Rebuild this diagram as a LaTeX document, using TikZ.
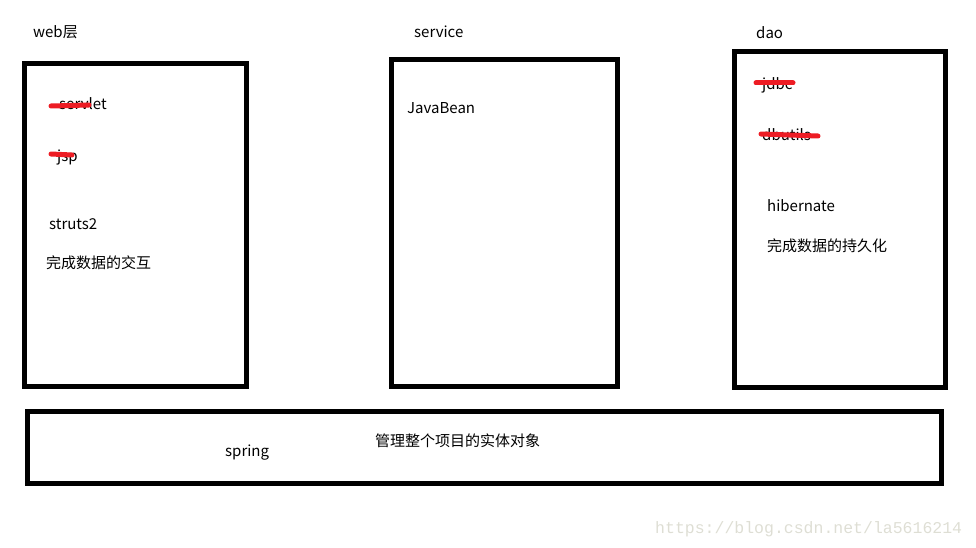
\documentclass[tikz,border=0pt]{standalone}
\usepackage{fontspec}
\setmainfont{Noto Sans CJK SC}
\newfontfamily\markfont{Liberation Mono}
\usepackage{tikz}
\definecolor{paintred}{RGB}{237,28,36}
\definecolor{markgray}{RGB}{222,222,212}

\begin{document}
\begin{tikzpicture}[x=1pt, y=-1pt,
    box/.style={line width=5pt},
    txt/.style={anchor=base west, inner sep=0pt, font=\fontsize{15}{18}\selectfont},
    strike/.style={paintred, line width=5pt, line cap=round}]
    \useasboundingbox (0,0) rectangle (976,548);
    % layer boxes
    \draw[box] (24.5,63.5) rectangle (246.5,386.5);
    \draw[box] (391.5,60) rectangle (617.5,386.5);
    \draw[box] (734.5,51.5) rectangle (945.5,387.5);
    \draw[box] (27.5,411.5) rectangle (941.5,483.5);
    % titles
    \node[txt] (web) at (33,37.5) {web层};
    \node[txt] (service) at (414,37.5) {service};
    \node[txt] (dao) at (756,38.5) {dao};
    % web layer
    \node[txt] (servlet) at (59,110) {servlet};
    \node[txt] (jsp) at (57,162) {jsp};
    \node[txt] (struts) at (49,229.5) {struts2};
    \node[txt] (webnote) at (46,268.5) {完成数据的交互};
    % service layer
    \node[txt] (bean) at (407,113.5) {JavaBean};
    % dao layer
    \node[txt] (jdbc) at (762,89.5) {jdbc};
    \node[txt] (dbutils) at (762,140.5) {dbutils};
    \node[txt] (hibernate) at (767,211.5) {hibernate};
    \node[txt] (daonote) at (767,251.5) {完成数据的持久化};
    % spring
    \node[txt] (spring) at (225,456.5) {spring};
    \node[txt] (springnote) at (375,446.5) {管理整个项目的实体对象};
    % red strokes
    \draw[strike] (51,106) -- (89,105);
    \draw[strike] (51,154) -- (72,155);
    \draw[strike] (756,83) -- (793,83);
    \draw[strike] (761,134) -- (818,136);
    % watermark
    \node[anchor=base west, inner sep=0pt, markgray, font=\markfont\fontsize{16.5}{18}\selectfont] (mark) at (655,533) {https://blog.csdn.net/la5616214};
\end{tikzpicture}
\end{document}
